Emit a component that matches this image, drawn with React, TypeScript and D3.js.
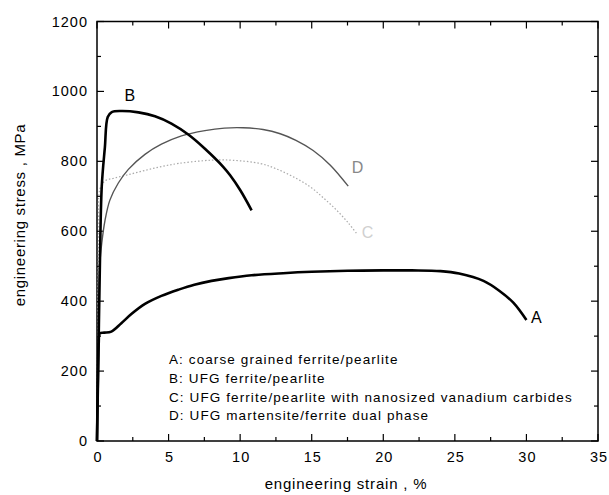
import { useEffect, useRef } from "react";
import * as d3 from "d3";

// curve A: coarse grained ferrite/pearlite
const strainA = [0, 0.05, 0.12, 0.2, 0.5, 1.0, 1.7, 2.4, 3.35, 4.5, 5.7, 6.8, 8.0, 9.2, 10.8, 13, 15, 17.5, 20, 22, 24, 25.3, 27, 28.1, 29.1, 30];
const stressA = [0, 150, 280, 308, 310, 313, 337, 363, 392, 415, 433, 447, 458, 466, 474, 480, 484, 487, 488, 488, 486, 479, 458, 430, 395, 346];

// curve B: UFG ferrite/pearlite
const strainB = [0, 0.1, 0.2, 0.33, 0.55, 0.75, 1.03, 1.72, 2.9, 4.05, 5.2, 6.4, 7.54, 8.8, 9.3, 10.0, 10.8];
const stressB = [0, 250, 500, 727, 840, 927, 941, 944, 940, 929, 908, 876, 836, 785, 760, 718, 660];

// curve C: UFG ferrite/pearlite with nanosized vanadium carbides
const strainC = [0, 0.05, 0.12, 0.2, 0.56, 1.2, 2.2, 3.35, 4.5, 5.7, 7.5, 8.5, 9.5, 11.4, 12.5, 13.7, 14.9, 15.8, 16.7, 17.55, 18.2];
const stressC = [0, 300, 600, 720, 744, 752, 762, 774, 785, 794, 802, 804, 803, 794, 779, 756, 727, 696, 662, 624, 590];

// curve D: UFG martensite/ferrite dual phase
const strainD = [0, 0.05, 0.12, 0.2, 0.33, 0.56, 0.9, 1.49, 2.19, 3.35, 4.5, 5.9, 7.54, 8.9, 10.2, 11.6, 12.8, 13.9, 15.1, 16.3, 17.55];
const stressD = [0, 200, 400, 508, 565, 631, 689, 738, 777, 820, 849, 873, 888, 895, 896, 891, 879, 860, 831, 789, 729];

const xTicks = [0, 5, 10, 15, 20, 25, 30, 35];
const yTicks = [0, 200, 400, 600, 800, 1000, 1200];

const legendLines = [
  "A: coarse grained ferrite/pearlite",
  "B: UFG ferrite/pearlite",
  "C: UFG ferrite/pearlite with nanosized vanadium carbides",
  "D: UFG martensite/ferrite dual phase",
];

const curveLabels = [
  { name: "A", x: 30.7, y: 354, color: "#000" },
  { name: "B", x: 2.3, y: 990, color: "#000" },
  { name: "C", x: 18.9, y: 597, color: "#d0d0d0" },
  { name: "D", x: 18.2, y: 783, color: "#888" },
];

const W = 609;
const H = 495;
const m = { left: 97, right: 11, top: 21.5, bottom: 54 };

export default function App() {
  const ref = useRef<SVGSVGElement>(null);

  useEffect(() => {
    const svg = d3.select(ref.current);
    svg.selectAll("*").remove();
    const font = "'Liberation Sans', Arial, Helvetica, sans-serif";

    const x = d3.scaleLinear().domain([0, 35]).range([m.left, W - m.right]);
    const y = d3.scaleLinear().domain([0, 1200]).range([H - m.bottom, m.top]);

    const line = d3.line<[number, number]>()
      .x(d => x(d[0]))
      .y(d => y(d[1]))
      .curve(d3.curveCatmullRom.alpha(0.5));

    const zip = (a: number[], b: number[]) => a.map((v, i) => [v, b[i]] as [number, number]);

    // frame
    svg.append("rect")
      .attr("x", x(0)).attr("y", y(1200))
      .attr("width", x(35) - x(0)).attr("height", y(0) - y(1200))
      .attr("fill", "none").attr("stroke", "#000").attr("stroke-width", 1.5);

    // ticks (inward, on all sides)
    const xMinor = d3.range(2.5, 35, 5);
    const yMinor = d3.range(100, 1200, 200);
    const g = svg.append("g").attr("stroke", "#000").attr("stroke-width", 1.2);
    const tick = (x1: number, y1: number, x2: number, y2: number) =>
      g.append("line").attr("x1", x1).attr("y1", y1).attr("x2", x2).attr("y2", y2);
    xTicks.forEach(t => { tick(x(t), y(0), x(t), y(0) - 7); tick(x(t), y(1200), x(t), y(1200) + 7); });
    xMinor.forEach(t => { tick(x(t), y(0), x(t), y(0) - 4); tick(x(t), y(1200), x(t), y(1200) + 4); });
    yTicks.forEach(t => { tick(x(0), y(t), x(0) + 7, y(t)); tick(x(35), y(t), x(35) - 7, y(t)); });
    yMinor.forEach(t => { tick(x(0), y(t), x(0) + 4, y(t)); tick(x(35), y(t), x(35) - 4, y(t)); });

    // tick labels
    svg.append("g").selectAll("text").data(xTicks).join("text")
      .attr("x", d => x(d) + 1).attr("y", y(0) + 21)
      .attr("text-anchor", "middle")
      .style("font-family", font).style("font-size", "14.5px").style("letter-spacing", "1px")
      .text(d => d);
    svg.append("g").selectAll("text").data(yTicks).join("text")
      .attr("x", x(0) - 9).attr("y", d => y(d) + 5)
      .attr("text-anchor", "end")
      .style("font-family", font).style("font-size", "14.5px").style("letter-spacing", "1px")
      .text(d => d);

    // axis titles
    svg.append("text")
      .attr("x", 346).attr("y", 489)
      .attr("text-anchor", "middle")
      .style("font-family", font).style("font-size", "15px").style("letter-spacing", "0.8px")
      .text("engineering strain , %");
    svg.append("text")
      .attr("transform", "translate(25,215) rotate(-90)")
      .attr("text-anchor", "middle")
      .style("font-family", font).style("font-size", "15px").style("letter-spacing", "0.7px")
      .text("engineering stress , MPa");

    // curves
    svg.append("path").attr("d", line(zip(strainC, stressC)))
      .attr("fill", "none").attr("stroke", "#aaa").attr("stroke-width", 1.2)
      .attr("stroke-dasharray", "1.5,2");
    svg.append("path").attr("d", line(zip(strainD, stressD)))
      .attr("fill", "none").attr("stroke", "#555").attr("stroke-width", 1.4);
    svg.append("path").attr("d", line(zip(strainA, stressA)))
      .attr("fill", "none").attr("stroke", "#000").attr("stroke-width", 2.6);
    svg.append("path").attr("d", line(zip(strainB, stressB)))
      .attr("fill", "none").attr("stroke", "#000").attr("stroke-width", 2.6);

    // curve labels
    svg.append("g").selectAll("text").data(curveLabels).join("text")
      .attr("x", d => x(d.x)).attr("y", d => y(d.y) + 6)
      .attr("text-anchor", "middle")
      .attr("fill", d => d.color)
      .style("font-family", font).style("font-size", "16px")
      .text(d => d.name);

    // legend text
    svg.append("g").selectAll("text").data(legendLines).join("text")
      .attr("x", 169).attr("y", (d, i) => 364 + i * 18.8)
      .style("font-family", font).style("font-size", "13.5px").style("letter-spacing", "1.1px")
      .text(d => d);
  }, []);

  return (
    <div style={{ position: "fixed", left: 0, top: 0 }}>
      <svg ref={ref} width={W} height={H} style={{ display: "block", background: "#fff" }}></svg>
    </div>
  );
}
